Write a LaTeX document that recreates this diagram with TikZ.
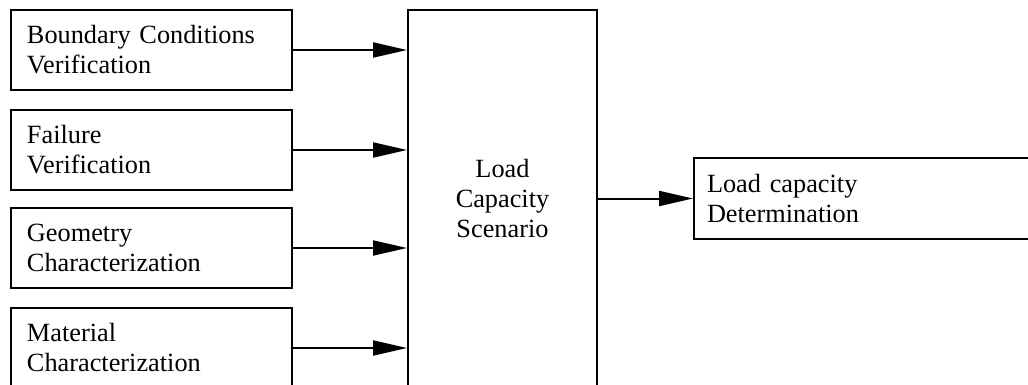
\documentclass[tikz,border=0pt]{standalone}
\usepackage{fontspec}
\setmainfont{Liberation Serif}
\usepackage{tikz}
\usetikzlibrary{arrows.meta, positioning}

\begin{document}
\begin{tikzpicture}[x=1pt, y=-1pt,
		block/.style = {draw, line width=2pt, align=left, inner xsep=16pt, inner ysep=0pt,
			text width=249pt, minimum height=80pt, anchor=north west,
			font=\fontsize{26.3}{30}\selectfont},
		flow/.style = {line width=2pt, -{Triangle[length=34pt, width=15pt]}}]
	\def\W{1028};
	\def\H{385};

	\useasboundingbox (0,0) rectangle (\W,\H);
	\clip (0,0) rectangle (\W,\H);

	% inputs on the left
	\node [block] (boundary) at (10,9) {Boundary Conditions\\Verification};
	\node [block] (failure) at (10,109) {Failure\\Verification};
	\node [block] (geometry) at (10,207) {Geometry\\Characterization};
	\node [block] (material) at (10,307) {Material\\Characterization};

	% scenario in the middle
	\node [draw, line width=2pt, anchor=north west, minimum width=189pt, minimum height=378pt,
		align=center, inner sep=0pt, font=\fontsize{26.3}{30}\selectfont]
		(scenario) at (407,9) {Load\\Capacity\\Scenario};

	% result on the right
	\node [block, anchor=west, text width=320pt, inner xsep=13pt, minimum height=81pt]
		(result) at (693,198.5) {Load capacity\\Determination};

	\foreach \n in {boundary, failure, geometry, material}
		\draw [flow] (\n.east) -- (\n.east -| scenario.west);

	\draw [flow] (scenario.east |- result.west) -- (result.west);
\end{tikzpicture}
\end{document}
